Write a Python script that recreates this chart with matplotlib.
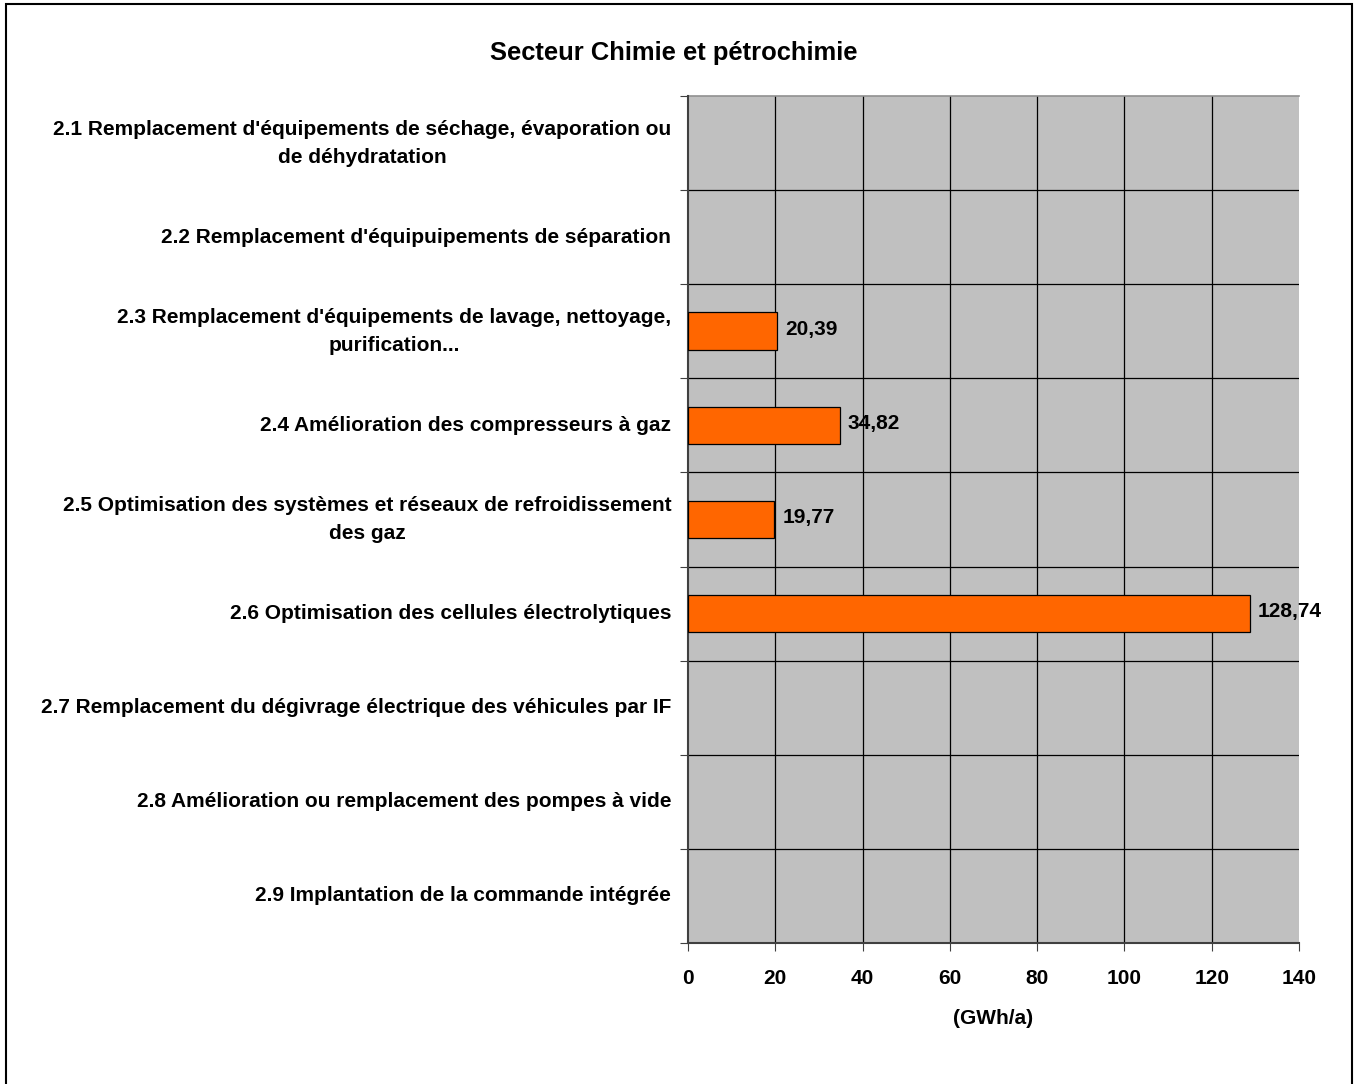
import matplotlib
matplotlib.use("Agg")
import matplotlib.pyplot as plt
from matplotlib.patches import Rectangle

plt.rcParams['font.family'] = ['Liberation Sans', 'DejaVu Sans']

categories = [
    "2.1 Remplacement d'équipements de séchage, évaporation ou\nde déhydratation",
    "2.2 Remplacement d'équipuipements de séparation",
    "2.3 Remplacement d'équipements de lavage, nettoyage,\npurification...",
    "2.4 Amélioration des compresseurs à gaz",
    "2.5 Optimisation des systèmes et réseaux de refroidissement\ndes gaz",
    "2.6 Optimisation des cellules électrolytiques",
    "2.7 Remplacement du dégivrage électrique des véhicules par IF",
    "2.8 Amélioration ou remplacement des pompes à vide",
    "2.9 Implantation de la commande intégrée",
]
values = [None, None, 20.39, 34.82, 19.77, 128.74, None, None, None]
x_ticks = [0, 20, 40, 60, 80, 100, 120, 140]
title = "Secteur Chimie et pétrochimie"
x_label = "(GWh/a)"

W, H = 1360, 1084
FS = 15
fig = plt.figure(figsize=(W / 100, H / 100), dpi=100)

# outer frame around the chart
fig.patches.append(Rectangle((6 / W, -0.01), (1352 - 6) / W, 1.01 - 4 / H,
                             transform=fig.transFigure, fill=False,
                             edgecolor='black', linewidth=1.5, clip_on=False))

ax = fig.add_axes([688 / W, 1 - 943 / H, (1299 - 688) / W, (943 - 96) / H])
ax.set_facecolor('#C0C0C0')

n = len(categories)
ax.set_ylim(n, 0)
ax.set_xlim(0, 140)

# category separators and value gridlines
for b in range(1, n):
    ax.axhline(b, color='black', linewidth=0.9, zorder=1)
for t in x_ticks[1:-1]:
    ax.axvline(t, color='black', linewidth=0.9, zorder=1)

for i, v in enumerate(values):
    if v is None:
        continue
    y = i + 0.5
    ax.barh(y, v, height=0.4, color='#FF6600', edgecolor='black',
            linewidth=0.9, zorder=3)
    ax.text(v + 1.8, y - 0.02, f"{v:.2f}".replace('.', ','), va='center',
            ha='left', fontsize=FS, fontweight='bold', clip_on=False,
            zorder=4)

# category labels
ax.set_yticks(range(n + 1))
ax.set_yticklabels([])
ax.set_yticks([i + 0.5 for i in range(n)], minor=True)
ax.set_yticklabels(categories, minor=True, fontsize=FS, fontweight='bold',
                   multialignment='center', linespacing=1.6, va='center')
ax.tick_params(axis='y', which='minor', length=0, pad=12)
ax.tick_params(axis='y', which='major', length=6, direction='out',
               color='#404040')

ax.set_xticks(x_ticks)
ax.set_xticklabels([str(t) for t in x_ticks], fontsize=FS,
                   fontweight='bold')
ax.tick_params(axis='x', length=6, direction='out', pad=13, color='#404040')

for s in ['top', 'right']:
    ax.spines[s].set_visible(False)
ax.spines['left'].set_color('#404040')
ax.spines['left'].set_linewidth(1.5)
ax.spines['bottom'].set_color('#404040')
ax.spines['bottom'].set_linewidth(1.5)
ax.plot([0, 140], [0, 0], color='#909090', linewidth=1.2, clip_on=False,
        zorder=2)

ax.set_xlabel(x_label, fontsize=FS, fontweight='bold', labelpad=15)

fig.text(674 / W, 1 - 53 / H, title, ha='center', va='center',
         fontsize=18.4, fontweight='bold')

fig.savefig('out.png', dpi=100)
